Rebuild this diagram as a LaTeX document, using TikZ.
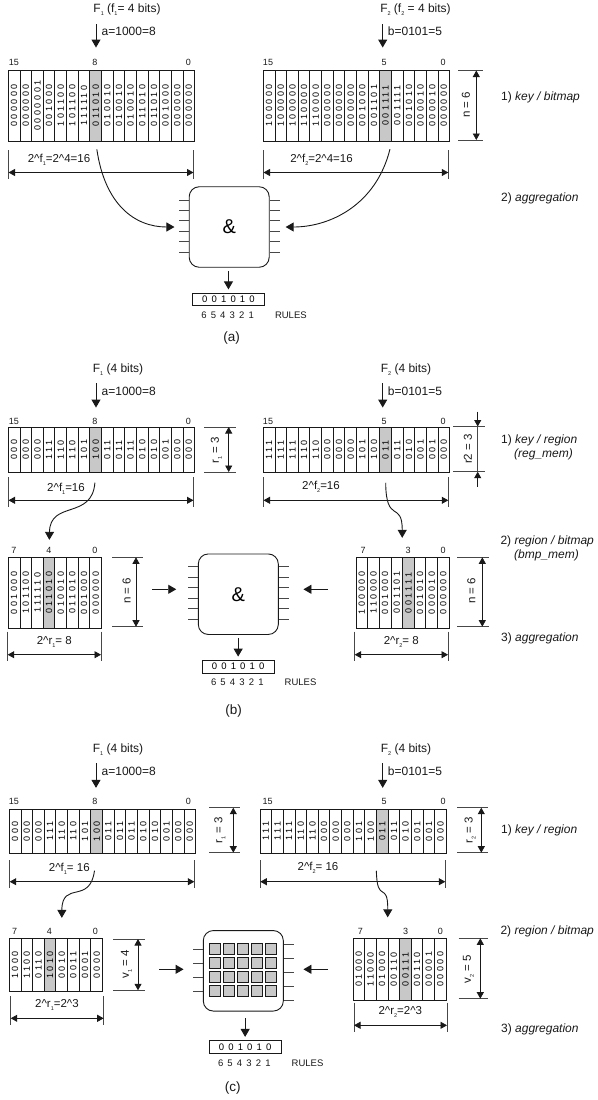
\documentclass[tikz,border=0pt]{standalone}
\usepackage{fontspec}
\setmainfont{Liberation Sans}
\newfontfamily\bitfont[LetterSpace=28]{Liberation Sans}
\newfontfamily\rulefont[LetterSpace=16]{Liberation Sans}
\usetikzlibrary{arrows.meta}
\definecolor{ink}{RGB}{25,25,25}
\definecolor{hit}{RGB}{200,200,200}
\tikzset{
  >={Triangle[length=8pt,width=9pt]},
  cell/.style={draw=ink,line width=.9pt,inner sep=0pt,minimum width=11.65pt,font=\fontsize{9}{10}\selectfont},
  idx/.style={font=\fontsize{9}{10}\selectfont,text=ink,inner sep=0pt},
  lab/.style={font=\fontsize{11.5}{13}\selectfont,text=ink,inner sep=0pt},
  step lab/.style={lab,anchor=west,font=\fontsize{12}{14}\selectfont},
  cap lab/.style={font=\fontsize{13.5}{15}\selectfont,text=ink,inner sep=0pt},
  flow/.style={->,line width=.9pt,draw=ink},
  tick/.style={line width=.8pt,draw=ink!80},
  dim/.style={>={Triangle[length=6.5pt,width=7pt]},<->,line width=.8pt,draw=ink},
  dim in/.style={>={Triangle[length=6.5pt,width=7pt]},->,line width=.8pt,draw=ink},
  chip/.style={draw=ink,line width=.9pt,rounded corners=10pt,minimum width=80pt,minimum height=80.5pt,
    inner sep=0pt,font=\fontsize{20}{22}\selectfont},
  pin/.style={line width=.8pt,draw=ink!80},
  square/.style={draw=ink,fill=hit,line width=.8pt,inner sep=0pt,minimum size=11.3pt},
  rulebox/.style={draw=ink,line width=.8pt,inner sep=0pt,minimum width=71.5pt,minimum height=12.6pt,
    anchor=north west,font=\fontsize{9.5}{11}\selectfont},
  rulelab/.style={font=\fontsize{9.5}{11}\selectfont,text=ink,inner sep=0pt},
}
\newcommand{\lowidx}[1]{\smash{\raisebox{-3pt}{\fontsize{5.5}{6}\selectfont #1}}}
\newcommand{\bitarray}[6]{% name, left, top, bottom, grey column, words
  \foreach \w [count=\i from 0] in {#6}{
    \ifnum\i=#5 \def\cellcol{hit}\else\def\cellcol{white}\fi
    \node[cell,fill=\cellcol,minimum height={(#4-#3)*1pt}] (#1-\i) at ({#2+(\i+.5)*11.65},{(#3+#4)/2}) {\rotatebox{90}{\bitfont\w}};
  }
}
\newcommand{\hdim}[6]{% name, x1, x2, tick top, tick bottom, arrow y
  \coordinate (#1-l) at (#2,#6);
  \coordinate (#1-r) at (#3,#6);
  \draw[tick] (#2,#4) -- (#2,#5) (#3,#4) -- (#3,#5);
  \draw[dim] (#1-l) -- (#1-r);
}
\newcommand{\vdim}[6]{% name, tick left, tick right, y1, y2, arrow x
  \coordinate (#1-t) at (#6,#4);
  \coordinate (#1-b) at (#6,#5);
  \draw[tick] (#2,#4) -- (#3,#4) (#2,#5) -- (#3,#5);
  \draw[dim] (#1-t) -- (#1-b);
}
\newcommand{\rulesrow}[3]{% name, left, top
  \node[rulebox] (#1-box) at (#2,#3) {\rulefont 0 0 1 0 1 0};
  \node[rulelab] (#1-num) at (#2+35.3,#3+22.5) {\rulefont 6 5 4 3 2 1};
  \node[rulelab,anchor=west] (#1-rules) at (#2+82.5,#3+22.5) {RULES};
}
\begin{document}
\begin{tikzpicture}[x=1pt,y=-1pt]
  \useasboundingbox (0,0) rectangle (597,1100);
  % (a)
  \node[lab,font=\fontsize{12}{14}\selectfont] (a-f1) at (127,9) {F\lowidx{1} (f\lowidx{1}= 4 bits)};
  \node[lab,font=\fontsize{12}{14}\selectfont] (a-f2) at (415.5,9) {F\lowidx{2} (f\lowidx{2} = 4 bits)};
  \node[lab,anchor=west,font=\fontsize{12}{14}\selectfont] (a-key1) at (101.5,31) {a=1000=8};
  \node[lab,anchor=west,font=\fontsize{12}{14}\selectfont] (a-key2) at (387.7,31) {b=0101=5};
  \foreach \x/\t in {14/15,95/8,188.5/0} \node[idx] (a1-t\t) at (\x,62) {\t};
  \foreach \x/\t in {268/15,384/5,443/0} \node[idx] (a2-t\t) at (\x,62) {\t};
  \bitarray{a1}{8.3}{70}{141}{7}{000000,000000,0000001,001000,101100,101100,111110,011010,010010,010010,010010,011010,011010,001000,000000,000000}
  \bitarray{a2}{263.3}{70}{141}{10}{100000,100000,100000,110000,110000,000000,000000,000000,001000,001101,001111,001111,001010,000010,000010,000000}
  \coordinate (a-in1) at (96,24);
  \coordinate (a-in2) at (382.7,24);
  \draw[flow,shorten >=22pt] (a-in1) -- (a-in1 |- a1-7.north);
  \draw[flow,shorten >=22pt] (a-in2) -- (a-in2 |- a2-10.north);
  \hdim{a-d1}{8.5}{193.5}{150}{179}{172.5}
  \hdim{a-d2}{263.5}{448.3}{150}{179}{172.5}
  \node[lab] (a-l1) at (59,158) {2\^{}f\lowidx{1}=2\^{}4=16};
  \node[lab] (a-l2) at (321.5,158) {2\^{}f\lowidx{2}=2\^{}4=16};
  \vdim{a-n}{458}{483}{70.5}{140}{476.3}
  \node[lab,rotate=90] (a-nl) at (466,105) {n = 6};
  \node[step lab] (a-s1) at (501,97) {1) \textit{key / bitmap}};
  \node[step lab] (a-s2) at (501,198) {2) \textit{aggregation}};
  \node[chip] (chip-a) at (229.2,227) {\&};
  \foreach \y in {200,210.4,220.8,231.2,241.6,252}
    \draw[pin] (chip-a.west |- 0,\y) -- ++(-10,0) (chip-a.east |- 0,\y) -- ++(10,0);
  \draw[flow,shorten <=8pt,shorten >=14.3pt] (a1-7.south) .. controls (105,205) and (135,227) .. (chip-a.west);
  \draw[flow,shorten <=8pt,shorten >=16pt] (a2-10.south east) .. controls (376,205) and (330,227) .. (chip-a.east);
  \rulesrow{a}{192.3}{292.8}
  \draw[flow,shorten <=3.4pt,shorten >=3.4pt] (a-box.north |- chip-a.south) -- (a-box.north);
  \node[cap lab] (a-cap) at (231.7,337.7) {(a)};
  % (b)
  \node[lab,font=\fontsize{12}{14}\selectfont] (b-f1) at (118,369) {F\lowidx{1} (4 bits)};
  \node[lab,font=\fontsize{12}{14}\selectfont] (b-f2) at (406,369) {F\lowidx{2} (4 bits)};
  \node[lab,anchor=west,font=\fontsize{12}{14}\selectfont] (b-key1) at (101.5,391) {a=1000=8};
  \node[lab,anchor=west,font=\fontsize{12}{14}\selectfont] (b-key2) at (387.7,391) {b=0101=5};
  \foreach \x/\t in {14/15,95/8,188.5/0} \node[idx] (b1-t\t) at (\x,421) {\t};
  \foreach \x/\t in {268/15,384/5,443/0} \node[idx] (b2-t\t) at (\x,421) {\t};
  \bitarray{b1}{8.3}{427.3}{472.3}{7}{000,000,000,111,110,110,101,100,011,011,011,010,010,001,000,000}
  \bitarray{b2}{263.3}{427.3}{472.3}{10}{111,111,111,110,110,000,000,000,101,100,011,011,010,001,001,000}
  \coordinate (b-in1) at (96,383);
  \coordinate (b-in2) at (382.7,383);
  \draw[flow,shorten >=19.3pt] (b-in1) -- (b-in1 |- b1-7.north);
  \draw[flow,shorten >=19.3pt] (b-in2) -- (b-in2 |- b2-10.north);
  \hdim{b-d1}{8.5}{193.5}{477}{507}{500.3}
  \hdim{b-d2}{263.5}{448.3}{477}{507}{500.3}
  \node[lab] (b-l1) at (66,487) {2\^{}f\lowidx{1}=16};
  \node[lab] (b-l2) at (321,485.5) {2\^{}f\lowidx{2}=16};
  \vdim{b-r1}{204}{236}{427}{472}{228.7}
  \node[lab,rotate=90] (b-r1l) at (215,450) {r\lowidx{1} = 3};
  \coordinate (b-r2a) at (477.7,411.7);
  \coordinate (b-r2b) at (477.7,486.7);
  \draw[tick] (453,426.5) -- (485,426.5) (453,471.7) -- (485,471.7) (477.7,426.5) -- (477.7,471.7);
  \draw[dim in] (b-r2a) -- (477.7,426.5);
  \draw[dim in] (b-r2b) -- (477.7,471.7);
  \node[lab,rotate=90] (b-r2l) at (468,449) {r2 = 3};
  \node[step lab] (b-s1) at (501,440) {1) \textit{key / region}};
  \node[step lab] (b-s1x) at (514,454.3) {\textit{(reg\_mem)}};
  \node[step lab] (b-s2) at (500.3,541) {2) \textit{region / bitmap}};
  \node[step lab] (b-s2x) at (514,555.3) {\textit{(bmp\_mem)}};
  \node[step lab] (b-s3) at (501,638.7) {3) \textit{aggregation}};
  \foreach \x/\t in {14/7,49/4,95/0} \node[idx] (b3-t\t) at (\x,550.7) {\t};
  \foreach \x/\t in {363/7,408/3,443/0} \node[idx] (b4-t\t) at (\x,550.7) {\t};
  \bitarray{b3}{8.3}{557.3}{628.3}{3}{001000,101100,111110,011010,010010,011010,001000,000000}
  \bitarray{b4}{356}{557.3}{628.3}{4}{100000,110000,001000,001101,001111,001010,000010,000000}
  \draw[flow,shorten <=10pt,shorten >=17pt] (b1-7.south) .. controls (92,520) and (50,500) .. (b3-3.north);
  \draw[flow,shorten <=10pt,shorten >=19pt] (b2-10.south) .. controls (386,525) and (402.3,500) .. (b4-4.north west);
  \vdim{b-n1}{112}{143.3}{557.3}{626.7}{136}
  \node[lab,rotate=90] (b-n1l) at (126.7,591) {n = 6};
  \vdim{b-n2}{457.3}{489}{557.3}{626.7}{482.3}
  \node[lab,rotate=90] (b-n2l) at (471.3,591) {n = 6};
  \hdim{b-d3}{7.7}{101}{631.7}{661}{654.7}
  \hdim{b-d4}{354.7}{448}{631.7}{661}{654.7}
  \node[lab] (b-l3) at (54.3,641) {2\^{}r\lowidx{1}= 8};
  \node[lab] (b-l4) at (401.3,640.5) {2\^{}r\lowidx{2}= 8};
  \node[chip] (chip-b) at (238.3,594.2) {\&};
  \foreach \y in {566.7,577.2,587.6,598,608.5,619}
    \draw[pin] (chip-b.west |- 0,\y) -- ++(-10,0) (chip-b.east |- 0,\y) -- ++(10,0);
  \coordinate (b-m1) at (152,589.3);
  \coordinate (b-m2) at (328,589.3);
  \draw[flow,shorten >=21.6pt] (b-m1) -- (chip-b.west |- b-m1);
  \draw[flow,shorten >=24.7pt] (b-m2) -- (chip-b.east |- b-m2);
  \rulesrow{b}{202}{660}
  \draw[flow,shorten <=3.4pt,shorten >=3.4pt] (b-box.north |- chip-b.south) -- (b-box.north);
  \node[cap lab] (b-cap) at (233.7,711) {(b)};
  % (c)
  \node[lab,font=\fontsize{12}{14}\selectfont] (c-f1) at (118,749.3) {F\lowidx{1} (4 bits)};
  \node[lab,font=\fontsize{12}{14}\selectfont] (c-f2) at (406,749.3) {F\lowidx{2} (4 bits)};
  \node[lab,anchor=west,font=\fontsize{12}{14}\selectfont] (c-key1) at (101.5,771) {a=1000=8};
  \node[lab,anchor=west,font=\fontsize{12}{14}\selectfont] (c-key2) at (387.7,771) {b=0101=5};
  \foreach \x/\t in {14/15,95/8,188.5/0} \node[idx] (c1-t\t) at (\x,801.7) {\t};
  \foreach \x/\t in {267.7/15,384/5,443/0} \node[idx] (c2-t\t) at (\x,801.7) {\t};
  \bitarray{c1}{9.3}{809}{853.3}{7}{000,000,000,111,110,110,101,100,011,011,011,010,010,001,000,000}
  \bitarray{c2}{260}{809}{853.3}{10}{111,111,111,110,110,000,000,000,101,100,011,011,010,001,001,000}
  \coordinate (c-in1) at (96,763.3);
  \coordinate (c-in2) at (382.7,763.3);
  \draw[flow,shorten >=20.7pt] (c-in1) -- (c-in1 |- c1-7.north);
  \draw[flow,shorten >=20.7pt] (c-in2) -- (c-in2 |- c2-10.north);
  \hdim{c-d1}{9.7}{194.3}{860}{888.3}{881.7}
  \hdim{c-d2}{260.3}{445.3}{860}{888.3}{881.7}
  \node[lab] (c-l1) at (69.3,867.3) {2\^{}f\lowidx{1}= 16};
  \node[lab] (c-l2) at (318,866.7) {2\^{}f\lowidx{2}= 16};
  \vdim{c-r1}{209}{240.3}{807.7}{852.7}{233.3}
  \node[lab,rotate=90] (c-r1l) at (218.3,830) {r\lowidx{1} = 3};
  \vdim{c-r2}{457}{488}{807.7}{852.7}{481.3}
  \node[lab,rotate=90] (c-r2l) at (468.7,830) {r\lowidx{2} = 3};
  \node[step lab] (c-s1) at (501,830.7) {1) \textit{key / region}};
  \node[step lab] (c-s2) at (500.3,931.7) {2) \textit{region / bitmap}};
  \node[step lab] (c-s3) at (501,1029.3) {3) \textit{aggregation}};
  \foreach \x/\t in {14.7/7,49.3/4,95.3/0} \node[idx] (c3-t\t) at (\x,931.7) {\t};
  \foreach \x/\t in {360.3/7,405.7/3,440.3/0} \node[idx] (c4-t\t) at (\x,931.7) {\t};
  \bitarray{c3}{9.3}{938.3}{991.7}{3}{1000,1100,0110,1010,0010,0011,0001,0000}
  \bitarray{c4}{353}{938.3}{1000.3}{4}{01000,11000,01000,00110,00111,00110,00001,00000}
  \draw[flow,shorten <=17pt,shorten >=20pt] (c1-7.south) .. controls (90,905) and (62,880) .. (c3-4.north);
  \draw[flow,shorten <=17pt,shorten >=20.5pt] (c2-10.south west) .. controls (377,905) and (388,880) .. (c4-3.north west);
  \vdim{c-v1}{113.3}{145}{939}{990.3}{138}
  \node[lab,rotate=90] (c-v1l) at (125,964.3) {v\lowidx{1} = 4};
  \vdim{c-v2}{458.7}{487.7}{938.3}{998.7}{480.3}
  \node[lab,rotate=90] (c-v2l) at (467,969.3) {v\lowidx{2} = 5};
  \hdim{c-d3}{10.7}{103.7}{996}{1024.7}{1018.3}
  \hdim{c-d4}{354}{447}{1002.7}{1031.7}{1025.3}
  \node[lab] (c-l3) at (57,1004) {2\^{}r\lowidx{1}=2\^{}3};
  \node[lab] (c-l4) at (400.3,1011) {2\^{}r\lowidx{2}=2\^{}3};
  \node[chip] (chip-c) at (243.3,970.8) {};
  \foreach \c in {0,...,4} \foreach \r in {0,...,3}
    \node[square] (sq-\c-\r) at ({214.7+14*\c},{949+14*\r}) {};
  \foreach \y in {949.3,963.3,977.3,991} \draw[pin] (chip-c.west |- 0,\y) -- ++(-10,0);
  \foreach \y in {944,958,972,986,1000} \draw[pin] (chip-c.east |- 0,\y) -- ++(10,0);
  \coordinate (c-m1) at (159,969.3);
  \coordinate (c-m2) at (328,969.3);
  \draw[flow,shorten >=19.3pt] (c-m1) -- (chip-c.west |- c-m1);
  \draw[flow,shorten >=19.7pt] (c-m2) -- (chip-c.east |- c-m2);
  \rulesrow{c}{209}{1040.3}
  \draw[flow,shorten <=6.5pt,shorten >=3.4pt] (c-box.north |- chip-c.south) -- (c-box.north);
  \node[cap lab] (c-cap) at (232.7,1088.3) {(c)};
\end{tikzpicture}
\end{document}
